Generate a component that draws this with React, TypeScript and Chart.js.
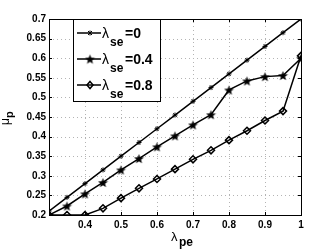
import React, { useEffect, useRef } from "react";
import { Chart, registerables } from "chart.js";

Chart.register(...registerables);

const lambdaPe = [0.3, 0.35, 0.4, 0.45, 0.5, 0.55, 0.6, 0.65, 0.7, 0.75, 0.8, 0.85, 0.9, 0.95, 1.0];
const seriesSe0 = [0.21, 0.245, 0.28, 0.315, 0.35, 0.385, 0.42, 0.455, 0.49, 0.525, 0.56, 0.595, 0.63, 0.665, 0.7];
const seriesSe04 = [0.2, 0.223, 0.254, 0.283, 0.315, 0.344, 0.374, 0.402, 0.43, 0.456, 0.519, 0.542, 0.553, 0.556, 0.6];
const seriesSe08 = [0.2, 0.2, 0.2, 0.217, 0.243, 0.268, 0.292, 0.317, 0.342, 0.365, 0.391, 0.415, 0.441, 0.465, 0.606];
const legendValues = ["0", "0.4", "0.8"];
const xTicks = [0.3, 0.4, 0.5, 0.6, 0.7, 0.8, 0.9, 1.0];
const yTicks = [0.2, 0.25, 0.3, 0.35, 0.4, 0.45, 0.5, 0.55, 0.6, 0.65, 0.7];

const FONT = "'Liberation Sans', Arial, Helvetica, sans-serif";

function makePentagram(size: number): HTMLCanvasElement {
  const c = document.createElement("canvas");
  c.width = size;
  c.height = size;
  const ctx = c.getContext("2d")!;
  const cx = size / 2;
  const cy = size / 2;
  const R = size / 2 - 0.3;
  const r = R * 0.42;
  ctx.beginPath();
  for (let i = 0; i < 10; i++) {
    const rad = i % 2 === 0 ? R : r;
    const a = -Math.PI / 2 + (i * Math.PI) / 5;
    const px = cx + rad * Math.cos(a);
    const py = cy + rad * Math.sin(a) + 0.6;
    if (i === 0) ctx.moveTo(px, py);
    else ctx.lineTo(px, py);
  }
  ctx.closePath();
  ctx.fillStyle = "#000";
  ctx.fill();
  return c;
}

export default function App() {
  const ref = useRef<HTMLCanvasElement>(null);
  useEffect(() => {
    if (!ref.current) return;
    const star = makePentagram(11);

    const gridPlugin = {
      id: "dotgrid",
      beforeDatasetsDraw(chart: any) {
        const ctx = chart.ctx as CanvasRenderingContext2D;
        const { left, right, top, bottom } = chart.chartArea;
        const xs = chart.scales.x;
        const ys = chart.scales.y;
        ctx.save();
        ctx.strokeStyle = "#b4b4b4";
        ctx.lineWidth = 1;
        ctx.setLineDash([1, 3]);
        ctx.beginPath();
        for (const t of xTicks) {
          const px = Math.round(xs.getPixelForValue(t)) + 0.5;
          ctx.moveTo(px, bottom);
          ctx.lineTo(px, top);
        }
        for (const t of yTicks) {
          const py = Math.round(ys.getPixelForValue(t)) + 0.5;
          ctx.moveTo(left, py);
          ctx.lineTo(right, py);
        }
        ctx.stroke();
        ctx.restore();
      },
    };

    const framePlugin = {
      id: "frame",
      afterDraw(chart: any) {
        const ctx = chart.ctx as CanvasRenderingContext2D;
        const { left, right, top, bottom } = chart.chartArea;
        const xs = chart.scales.x;
        const ys = chart.scales.y;
        ctx.save();
        ctx.strokeStyle = "#000";
        ctx.lineWidth = 1;
        ctx.strokeRect(Math.round(left) + 0.5, Math.round(top) + 0.5, Math.round(right - left), Math.round(bottom - top));
        ctx.beginPath();
        for (const t of xTicks) {
          const px = Math.round(xs.getPixelForValue(t)) + 0.5;
          ctx.moveTo(px, bottom);
          ctx.lineTo(px, bottom - 3);
          ctx.moveTo(px, top);
          ctx.lineTo(px, top + 3);
        }
        for (const t of yTicks) {
          const py = Math.round(ys.getPixelForValue(t)) + 0.5;
          ctx.moveTo(left, py);
          ctx.lineTo(left + 3, py);
          ctx.moveTo(right, py);
          ctx.lineTo(right - 3, py);
        }
        ctx.stroke();

        // legend
        const lx = 73, ly = 19, lw = 87, lh = 82;
        ctx.fillStyle = "#fff";
        ctx.fillRect(lx, ly, lw, lh);
        ctx.strokeRect(lx + 0.5, ly + 0.5, lw, lh);
        const baselines = [38, 64, 90];
        baselines.forEach((b, i) => {
          const ly2 = b - 5;
          ctx.strokeStyle = "#000";
          ctx.lineWidth = 1.5;
          ctx.beginPath();
          ctx.moveTo(77, ly2);
          ctx.lineTo(101, ly2);
          ctx.stroke();
          const mx = 90;
          ctx.lineWidth = 1;
          if (i === 0) {
            ctx.beginPath();
            ctx.moveTo(mx - 2, ly2 - 2);
            ctx.lineTo(mx + 2, ly2 + 2);
            ctx.moveTo(mx - 2, ly2 + 2);
            ctx.lineTo(mx + 2, ly2 - 2);
            ctx.moveTo(mx, ly2 - 2.5);
            ctx.lineTo(mx, ly2 + 2.5);
            ctx.stroke();
          } else if (i === 1) {
            ctx.drawImage(star, mx - 5.5, ly2 - 5.5);
          } else {
            ctx.lineWidth = 1.5;
            ctx.beginPath();
            ctx.moveTo(mx, ly2 - 3.5);
            ctx.lineTo(mx + 3, ly2);
            ctx.lineTo(mx, ly2 + 3.5);
            ctx.lineTo(mx - 3, ly2);
            ctx.closePath();
            ctx.stroke();
          }
          ctx.fillStyle = "#000";
          ctx.textBaseline = "alphabetic";
          ctx.textAlign = "left";
          ctx.font = `14px ${FONT}`;
          ctx.fillText("λ", 102, b);
          ctx.font = `bold 12px ${FONT}`;
          ctx.fillText("se", 110, b + 8);
          ctx.font = `bold 14px ${FONT}`;
          ctx.fillText("=" + legendValues[i], 125, b);
        });

        // axis titles
        ctx.fillStyle = "#000";
        ctx.font = `13px ${FONT}`;
        ctx.fillText("λ", 171, 241);
        ctx.font = `bold 12px ${FONT}`;
        ctx.fillText("pe", 179, 246);

        ctx.save();
        ctx.translate(9, 125);
        ctx.rotate(-Math.PI / 2);
        ctx.font = `12px ${FONT}`;
        ctx.fillText("μ", 0, 0);
        const w = ctx.measureText("μ").width;
        ctx.font = `bold 11px ${FONT}`;
        ctx.fillText("p", w, 4);
        ctx.restore();
        ctx.restore();
      },
    };

    const chart = new Chart(ref.current, {
      type: "line",
      data: {
        labels: lambdaPe,
        datasets: [
          {
            label: "λse=0",
            data: lambdaPe.map((x, i) => ({ x, y: seriesSe0[i] })),
            borderColor: "#000",
            backgroundColor: "#000",
            borderWidth: 1.5,
            pointStyle: "star",
            pointRadius: 2.5,
            pointBorderWidth: 1,
          },
          {
            label: "λse=0.4",
            data: lambdaPe.map((x, i) => ({ x, y: seriesSe04[i] })),
            borderColor: "#000",
            backgroundColor: "#000",
            borderWidth: 1.5,
            pointStyle: star as any,
            pointRadius: 5,
          },
          {
            label: "λse=0.8",
            data: lambdaPe.map((x, i) => ({ x, y: seriesSe08[i] })),
            borderColor: "#000",
            backgroundColor: "rgba(0,0,0,0)",
            borderWidth: 1.5,
            pointStyle: "rectRot",
            pointRadius: 3.5,
            pointBorderWidth: 1.5,
          },
        ],
      },
      options: {
        animation: false,
        responsive: false,
        maintainAspectRatio: false,
        layout: { padding: { top: 19, right: 31, left: 0, bottom: 0 } },
        plugins: { legend: { display: false }, tooltip: { enabled: false } },
        elements: { line: { tension: 0 } },
        scales: {
          x: {
            type: "linear",
            min: 0.3,
            max: 1.0,
            afterBuildTicks: (s: any) => {
              s.ticks = xTicks.map((v) => ({ value: v }));
            },
            afterFit: (s: any) => {
              s.height = 37;
            },
            grid: { display: false, drawTicks: false },
            border: { display: false },
            ticks: {
              padding: 4,
              color: "#000",
              font: { family: FONT, size: 10, weight: "bold" },
              maxRotation: 0,
              autoSkip: false,
              callback: (v: any) => {
                const n = Math.round(Number(v) * 10) / 10;
                if (n === 0.3) return "";
                return String(n);
              },
            },
          },
          y: {
            type: "linear",
            min: 0.2,
            max: 0.7,
            afterBuildTicks: (s: any) => {
              s.ticks = yTicks.map((v) => ({ value: v }));
            },
            afterFit: (s: any) => {
              s.width = 49;
            },
            grid: { display: false, drawTicks: false },
            border: { display: false },
            ticks: {
              padding: 3,
              color: "#000",
              font: { family: FONT, size: 10, weight: "bold" },
              autoSkip: false,
              callback: (v: any) => String(Math.round(Number(v) * 100) / 100),
            },
          },
        },
      },
      plugins: [gridPlugin, framePlugin],
    } as any);
    return () => chart.destroy();
  }, []);

  return (
    <div style={{ position: "fixed", left: 0, top: 0, width: 332, height: 252, background: "#fff" }}>
      <canvas ref={ref} width={332} height={252} style={{ display: "block", width: 332, height: 252 }} />
    </div>
  );
}
